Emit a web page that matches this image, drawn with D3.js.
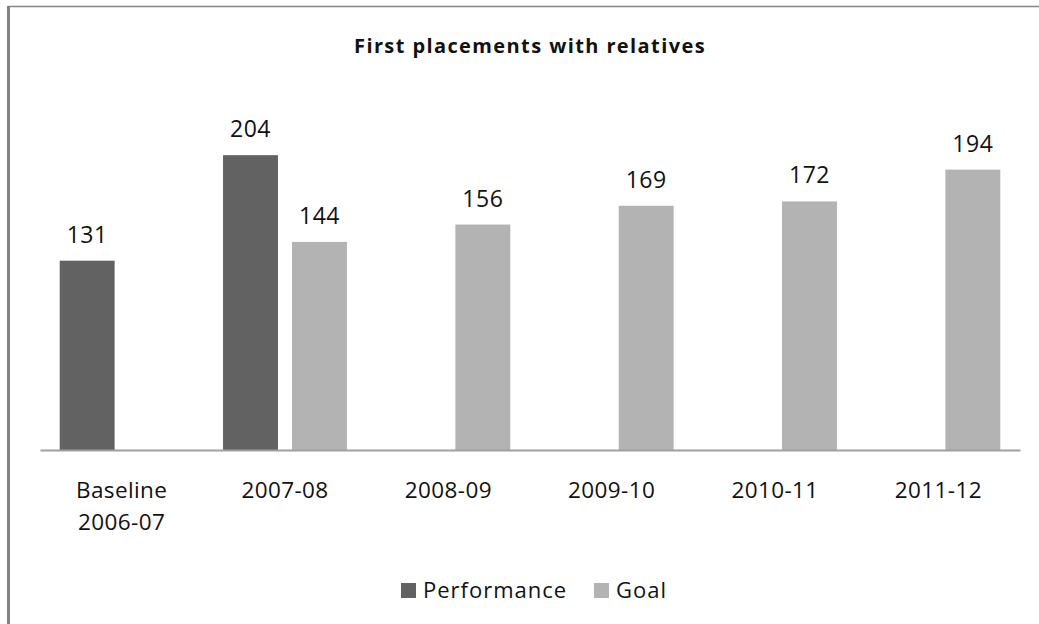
<!DOCTYPE html>
<html>
<head>
<meta charset="utf-8">
<script src="https://cdn.jsdelivr.net/npm/d3@7"></script>
<style>
  body { margin: 0; background: #fff; }
  svg { display: block; font-family: "Open Sans", sans-serif; }
</style>
</head>
<body>
<svg id="svg" width="1039" height="624"></svg>
<script>
// Chart data
var categories = [["Baseline", "2006-07"], ["2007-08"], ["2008-09"], ["2009-10"], ["2010-11"], ["2011-12"]];
var series = ["Performance", "Goal"];
var performance = [131, 204, null, null, null, null];
var goal = [null, 144, 156, 169, 172, 194];
var colors = { "Performance": "#626262", "Goal": "#b3b3b3" };

var svg = d3.select("svg");

// Frame border (left and top edges visible)
svg.append("rect")
    .attr("x", 8.5).attr("y", 6.5)
    .attr("width", 1100).attr("height", 700)
    .attr("fill", "none")
    .attr("stroke", "#868686")
    .attr("stroke-width", 1.5);
svg.append("line")
    .attr("x1", 8.5).attr("x2", 8.5)
    .attr("y1", 6).attr("y2", 624)
    .attr("stroke", "#828282")
    .attr("stroke-width", 3);

// Scales
var x0 = d3.scaleBand()
    .domain(d3.range(categories.length))
    .range([40, 1020]);

var x1 = d3.scaleBand()
    .domain(series)
    .range([19.7, x0.bandwidth() - 19.7])
    .paddingInner(0.204);

var y = d3.scaleLinear()
    .domain([0, 250])
    .range([450, 88.7]);

// Bars
var rows = [];
categories.forEach(function (c, i) {
    if (performance[i] != null) rows.push({ i: i, s: "Performance", v: performance[i] });
    if (goal[i] != null) rows.push({ i: i, s: "Goal", v: goal[i] });
});

svg.append("g").selectAll("rect")
    .data(rows)
    .enter().append("rect")
    .attr("x", function (d) { return x0(d.i) + x1(d.s); })
    .attr("width", x1.bandwidth())
    .attr("y", function (d) { return y(d.v); })
    .attr("height", function (d) { return y(0) - y(d.v); })
    .attr("fill", function (d) { return colors[d.s]; });

// Value labels
svg.append("g").selectAll("text")
    .data(rows)
    .enter().append("text")
    .attr("x", function (d) { return x0(d.i) + x1(d.s) + x1.bandwidth() / 2; })
    .attr("y", function (d) { return y(d.v) - 18; })
    .attr("text-anchor", "middle")
    .attr("font-size", "23px")
    .attr("letter-spacing", "0.5px")
    .attr("fill", "#111")
    .text(function (d) { return d.v; });

// X axis
var xAxis = svg.append("g")
    .attr("transform", "translate(0," + y(0) + ")")
    .call(d3.axisBottom(x0).tickSize(0).tickFormat(""));
xAxis.select(".domain").attr("stroke", "#a0a0a0").attr("stroke-width", 2);

var catLabels = svg.append("g").selectAll("text")
    .data(categories)
    .enter().append("text")
    .attr("text-anchor", "middle")
    .attr("font-size", "22.5px")
    .attr("letter-spacing", "0.4px")
    .attr("fill", "#111")
    .attr("x", function (d, i) { return x0(i) + x0.bandwidth() / 2; })
    .attr("y", 498);
catLabels.selectAll("tspan")
    .data(function (d) { return d; })
    .enter().append("tspan")
    .attr("x", function () { return d3.select(this.parentNode).attr("x"); })
    .attr("dy", function (d, j) { return j === 0 ? 0 : 32; })
    .text(function (d) { return d; });

// Title
svg.append("text")
    .attr("x", 530)
    .attr("y", 53)
    .attr("text-anchor", "middle")
    .attr("font-size", "20px")
    .attr("font-weight", "bold")
    .attr("letter-spacing", "1.4px")
    .attr("fill", "#111")
    .text("First placements with relatives");

// Legend
var legendX = [401, 594];
var legend = svg.append("g").selectAll("g")
    .data(series)
    .enter().append("g")
    .attr("transform", function (d, i) { return "translate(" + legendX[i] + ",583)"; });
legend.append("rect")
    .attr("width", 15).attr("height", 15)
    .attr("fill", function (d) { return colors[d]; });
legend.append("text")
    .attr("x", 22).attr("y", 14.5)
    .attr("font-size", "22px")
    .attr("letter-spacing", "1px")
    .attr("fill", "#111")
    .text(function (d) { return d; });
</script>
</body>
</html>
